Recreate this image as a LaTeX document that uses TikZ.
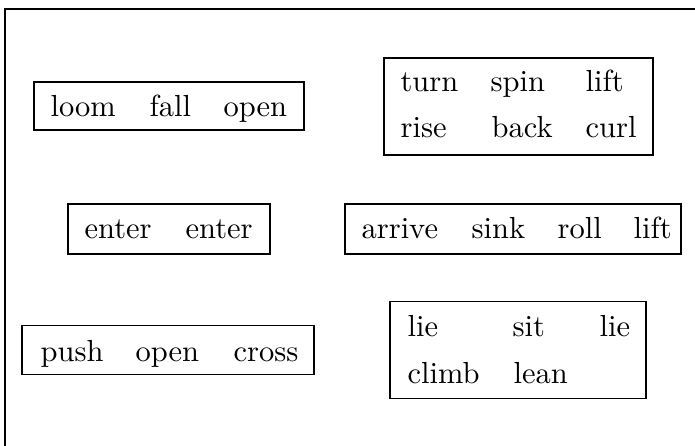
\documentclass[tikz,border=0pt]{standalone}
\begin{document}
\def\pxu{0.32787pt}
\begin{tikzpicture}[x=\pxu, y=-\pxu,
  wordbox/.style={draw, inner sep=0pt},
  boxsize/.style 2 args={minimum width=#1*\pxu, minimum height=#2*\pxu},
  word/.style={inner sep=0pt, anchor=base west}]
% page area and outer frame (runs past the right and bottom edges)
\useasboundingbox (0,0) rectangle (695,445);
\clip (0,0) rectangle (695,445);
\draw (5,9) rectangle (720,470);

% boxes
\node[wordbox, boxsize={270}{48}] (b1) at (169,106) {};
\node[wordbox, boxsize={269}{97}] (b2) at (518.5,106.5) {};
\node[wordbox, boxsize={202}{50}] (b3) at (169,229) {};
\node[wordbox, boxsize={336}{50}] (b4) at (513,229) {};
\node[wordbox, boxsize={292}{49}] (b5) at (168,350) {};
\node[wordbox, boxsize={256}{97}] (b6) at (518,350) {};

% words of the first box
\node[word] (w1a) at (50,116.5) {loom};
\node[word] (w1b) at (149,116.5) {fall};
\node[word] (w1c) at (223,116.5) {open};

% words of the second box
\node[word] (w2a) at (400,91.5) {turn};
\node[word] (w2b) at (490,91.5) {spin};
\node[word] (w2c) at (585,91.5) {lift};
\node[word] (w2d) at (400,137.5) {rise};
\node[word] (w2e) at (491,137.5) {back};
\node[word] (w2f) at (585,137.5) {curl};

% words of the third box
\node[word] (w3a) at (84,238.5) {enter};
\node[word] (w3b) at (185,238.5) {enter};

% words of the fourth box
\node[word] (w4a) at (361,238.5) {arrive};
\node[word] (w4b) at (471,238.5) {sink};
\node[word] (w4c) at (557,238.5) {roll};
\node[word] (w4d) at (633,238.5) {lift};

% words of the fifth box
\node[word] (w5a) at (40,361) {push};
\node[word] (w5b) at (135,361) {open};
\node[word] (w5c) at (233,361) {cross};

% words of the sixth box
\node[word] (w6a) at (407,336.5) {lie};
\node[word] (w6b) at (512,336.5) {sit};
\node[word] (w6c) at (599,336.5) {lie};
\node[word] (w6d) at (407,383) {climb};
\node[word] (w6e) at (513,383) {lean};
\end{tikzpicture}
\end{document}
